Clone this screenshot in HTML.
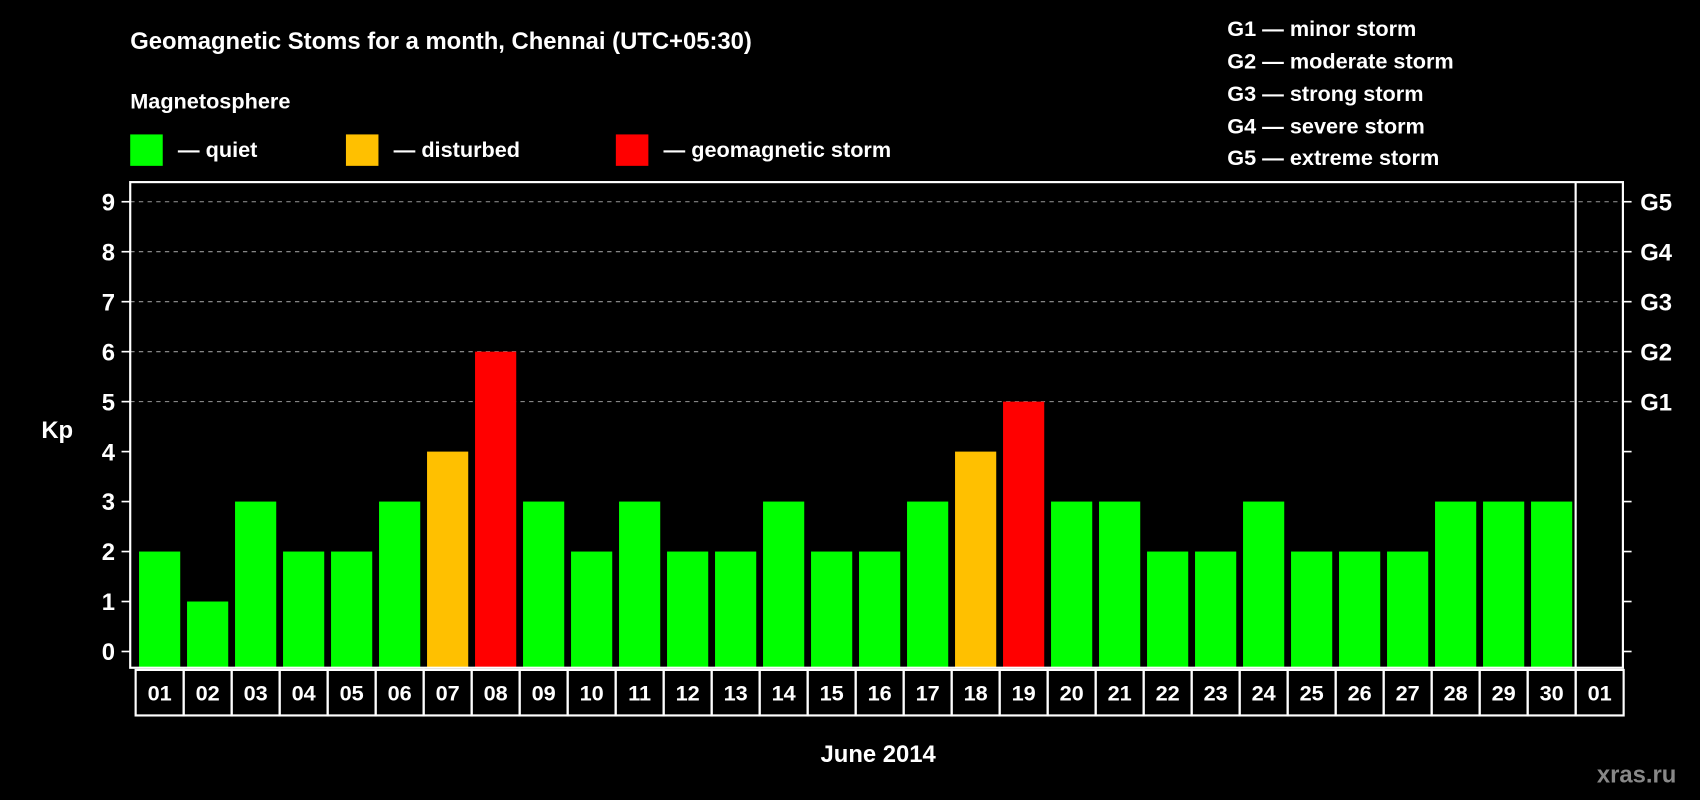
<!DOCTYPE html>
<html><head><meta charset="utf-8"><style>
html,body{margin:0;padding:0;background:#000;}
svg{display:block;font-family:"Liberation Sans",Arial,sans-serif;font-weight:bold;}
</style></head><body>
<svg id="chart" width="1700" height="800" viewBox="0 0 1568 738" xmlns="http://www.w3.org/2000/svg">
<rect width="1568" height="738" fill="#000"/>
<text x="120" y="45" fill="#fff" font-size="22">Geomagnetic Stoms for a month, Chennai (UTC+05:30)</text>
<text x="120" y="100" fill="#fff" font-size="20">Magnetosphere</text>
<g><rect x="120" y="124" width="30" height="29" fill="#00ff00"/><text x="164" y="145" fill="#fff" font-size="20">— quiet</text></g>
<g><rect x="319" y="124" width="30" height="29" fill="#ffc000"/><text x="363" y="145" fill="#fff" font-size="20">— disturbed</text></g>
<g><rect x="568" y="124" width="30" height="29" fill="#ff0000"/><text x="612" y="145" fill="#fff" font-size="20">— geomagnetic storm</text></g>
<g fill="#fff" font-size="20">
<text x="1132" y="33">G1 — minor storm</text>
<text x="1132" y="63">G2 — moderate storm</text>
<text x="1132" y="93">G3 — strong storm</text>
<text x="1132" y="123">G4 — severe storm</text>
<text x="1132" y="152">G5 — extreme storm</text>
</g>
<text x="38" y="404" fill="#fff" font-size="22">Kp</text>
<text x="810" y="703" fill="#fff" font-size="22" text-anchor="middle">June 2014</text>
<text x="1473" y="722" fill="#888" font-size="22">xras.ru</text>
<g id="grid"></g><g id="bars"></g><g id="axes"></g>
</svg>
<script>
const days=["01","02","03","04","05","06","07","08","09","10","11","12","13","14","15","16","17","18","19","20","21","22","23","24","25","26","27","28","29","30","01"];
const kp=[2,1,3,2,2,3,4,6,3,2,3,2,2,3,2,2,3,4,5,3,3,2,2,3,2,2,2,3,3,3];
const yTicks=[0,1,2,3,4,5,6,7,8,9];
const gLabels=["G1","G2","G3","G4","G5"];
const gLevels=[5,6,7,8,9];
const NS="http://www.w3.org/2000/svg";
const L=120,R=1497,T=168,B=616,X0=125,SW=44.28;
const y=v=>601-v*46.1;
const xc=i=>X0+SW*(i+0.5);
function mk(t,a,p){const e=document.createElementNS(NS,t);for(const k in a)e.setAttribute(k,a[k]);p.appendChild(e);return e;}
const grid=document.getElementById('grid'),bars=document.getElementById('bars'),axes=document.getElementById('axes');
gLevels.forEach(v=>{const l=mk('line',{x1:L,x2:R,y1:y(v),y2:y(v),stroke:'#999','stroke-dasharray':'4,4','stroke-width':1},grid);

});
kp.forEach((v,i)=>{const c=v>=5?'#ff0000':(v>=4?'#ffc000':'#00ff00');
const r=mk('rect',{x:xc(i)-19,y:y(v),width:38,height:B-y(v),fill:c},bars);

});
mk('rect',{x:L,y:T,width:R-L,height:B-T,fill:'none',stroke:'#fff','stroke-width':2},axes);
mk('line',{x1:X0+SW*30,x2:X0+SW*30,y1:T,y2:B,stroke:'#fff','stroke-width':2},axes);
yTicks.forEach(v=>{mk('line',{x1:L-8,x2:L,y1:y(v),y2:y(v),stroke:'#fff','stroke-width':1.5},axes);
mk('line',{x1:R,x2:R+8,y1:y(v),y2:y(v),stroke:'#fff','stroke-width':1.5},axes);
const t=mk('text',{x:L-14,y:y(v)+8,fill:'#fff','font-size':22,'text-anchor':'end'},axes);t.textContent=v;

});
gLabels.forEach((g,i)=>{const t=mk('text',{x:R+16,y:y(gLevels[i])+8,fill:'#fff','font-size':22},axes);t.textContent=g;

});
days.forEach((d,i)=>{const r=mk('rect',{x:X0+SW*i,y:618,width:SW,height:42,fill:'none',stroke:'#fff','stroke-width':2},axes);


const t=mk('text',{x:xc(i),y:646,fill:'#fff','font-size':20,'text-anchor':'middle'},axes);t.textContent=d;

});
</script>
</body></html>
